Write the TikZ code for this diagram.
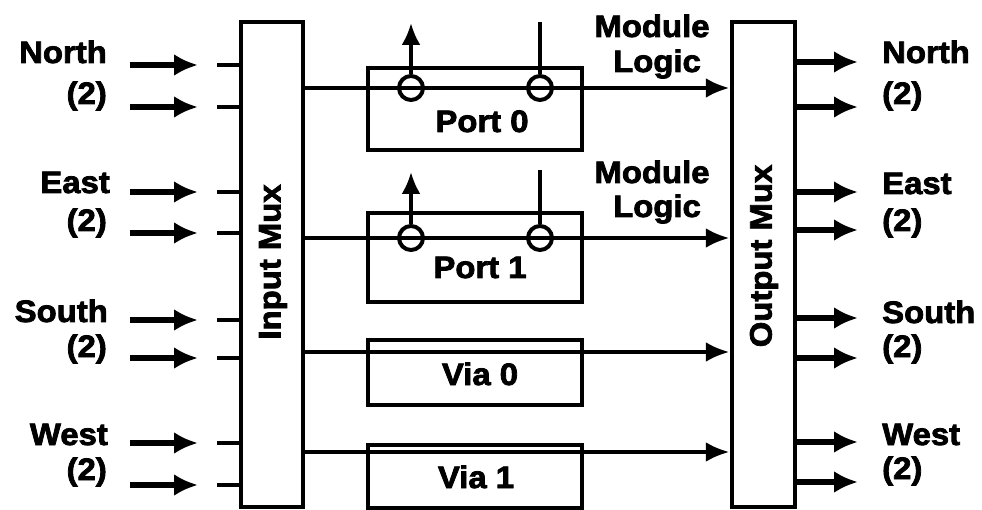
\documentclass[tikz,border=0pt]{standalone}
\usepackage{fontspec}
\setmainfont{Liberation Sans}
\newfontfamily\heavy{Liberation Sans}[UprightFont={* Bold}, FakeBold=2.5, FakeStretch=1.06]
\usetikzlibrary{arrows.meta}
\begin{document}
\begin{tikzpicture}[x=1pt,y=-1pt,
  lbl/.style={font=\fontsize{31}{34}\heavy, inner sep=0pt},
  box/.style={draw, line width=4.5pt, inner sep=0pt, fill=white},
  arr/.style={line width=6pt, -{Latex[length=24pt,width=22pt]}},
  rowarr/.style={line width=4.5pt, -{Latex[length=24pt,width=20pt]}},
  stub/.style={line width=4.5pt},
  thin/.style={line width=3.5pt},
  uparr/.style={line width=3.5pt, -{Latex[length=22pt,width=19pt]}},
  ring/.style={draw, circle, line width=4pt, minimum size=24pt, inner sep=0pt}
]
\useasboundingbox (0,0) rectangle (982,510);

% muxes
\node[box, minimum width=62pt, minimum height=485pt] (imux) at (272,264.5) {};
\node[lbl, rotate=90] (imuxt) at (273,262) {Input Mux};
\node[box, minimum width=63pt, minimum height=485pt] (omux) at (763.5,264.5) {};
\node[lbl, rotate=90] (omuxt) at (764,256) {Output Mux};

% left inputs
\foreach \i/\y in {1/65,2/107,3/192,4/233,5/320,6/358,7/443,8/485}{
  \coordinate (ia\i) at (130,\y);
  \coordinate (ib\i) at (198,\y);
  \coordinate (is\i) at (217,\y);
  \draw[arr] (ia\i) -- (ib\i);
  \draw[stub] (is\i) -- (is\i -| imux.west);
}
% right outputs
\foreach \i/\y in {1/62,2/107,3/192,4/230,5/318,6/358,7/442,8/482}{
  \coordinate (oe\i) at (858,\y);
  \draw[arr] (oe\i -| omux.east) -- (oe\i);
}

% left labels
\node[lbl, anchor=base east] (ln) at (107,63) {North};
\node[lbl, anchor=base east] (ln2) at (107,104) {(2)};
\node[lbl, anchor=base east] (le) at (110,193) {East};
\node[lbl, anchor=base east] (le2) at (107,231) {(2)};
\node[lbl, anchor=base east] (ls) at (108,322) {South};
\node[lbl, anchor=base east] (ls2) at (107,357) {(2)};
\node[lbl, anchor=base east] (lw) at (108,445) {West};
\node[lbl, anchor=base east] (lw2) at (107,480) {(2)};
% right labels
\node[lbl, anchor=base west] (rn) at (882,63) {North};
\node[lbl, anchor=base west] (rn2) at (882,104) {(2)};
\node[lbl, anchor=base west] (re) at (882,194) {East};
\node[lbl, anchor=base west] (re2) at (882,231) {(2)};
\node[lbl, anchor=base west] (rs) at (882,323) {South};
\node[lbl, anchor=base west] (rs2) at (882,357) {(2)};
\node[lbl, anchor=base west] (rw) at (882,445) {West};
\node[lbl, anchor=base west] (rw2) at (882,479) {(2)};

% module boxes
\node[box, minimum width=214pt, minimum height=82pt] (p0) at (475,109) {};
\node[box, minimum width=214pt, minimum height=89pt] (p1) at (475,257.5) {};
\node[box, minimum width=214pt, minimum height=65pt] (v0) at (475,372.5) {};
\node[box, minimum width=214pt, minimum height=63pt] (v1) at (475,476.5) {};
\node[lbl, anchor=base] (p0t) at (482,132) {Port 0};
\node[lbl, anchor=base] (p1t) at (480,278) {Port 1};
\node[lbl, anchor=base] (v0t) at (480,385) {Via 0};
\node[lbl, anchor=base] (v1t) at (476,488) {Via 1};

% row connections
\foreach \i/\y in {1/88,2/238,3/352,4/452}{
  \coordinate (r\i) at (500,\y);
  \draw[rowarr] (r\i -| imux.east) -- (r\i -| omux.west);
}

% port taps
\node[ring] (c00) at (411,88) {};
\node[ring] (c01) at (540,88) {};
\node[ring] (c10) at (411,238) {};
\node[ring] (c11) at (540,238) {};
\coordinate (u0) at (411,23);
\coordinate (t0) at (540,22);
\coordinate (u1) at (411,172);
\coordinate (t1) at (540,170);
\draw[uparr] (c00.north) -- (u0);
\draw[thin] (t0) -- (c01.north);
\draw[uparr] (c10.north) -- (u1);
\draw[thin] (t1) -- (c11.north);

% module logic labels
\node[lbl, anchor=base] (m0a) at (652,37) {Module};
\node[lbl, anchor=base] (m0b) at (657,72) {Logic};
\node[lbl, anchor=base] (m1a) at (652,183) {Module};
\node[lbl, anchor=base] (m1b) at (657,217) {Logic};
\end{tikzpicture}
\end{document}
